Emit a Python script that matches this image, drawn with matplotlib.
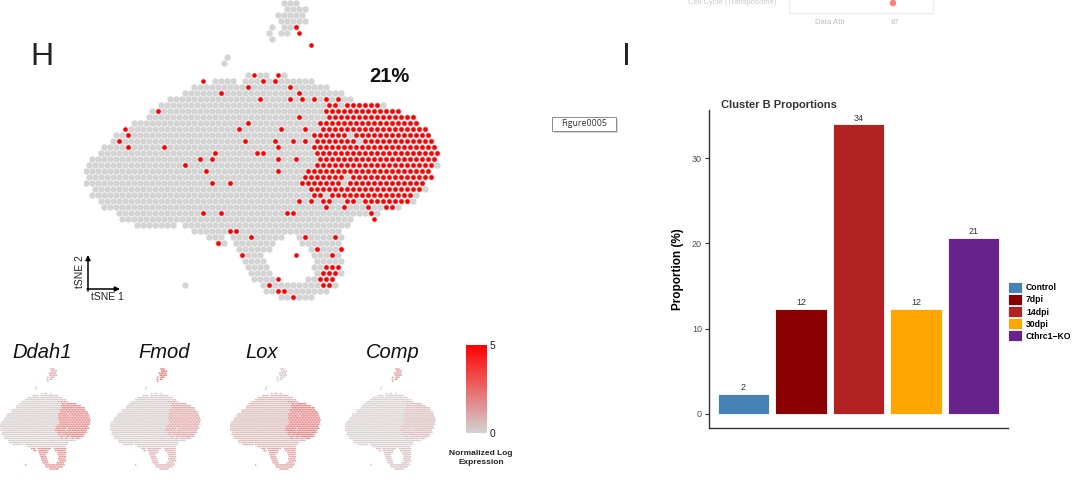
import matplotlib
matplotlib.use("Agg")
import matplotlib.pyplot as plt
from matplotlib.colors import LinearSegmentedColormap, Normalize
from matplotlib.cm import ScalarMappable
from matplotlib.patches import Patch, Rectangle, Circle

plt.rcParams['font.family'] = ['Liberation Sans', 'DejaVu Sans']

W, H = 1080, 482

# ---------------- Panel H: tSNE read off the picture as a coarse raster ----------------
# row -> list of (first_col, last_col) spans of grey cells (60 cols x 50 rows)
GRAY_SPANS = {
    0: [(33, 35)], 1: [(33, 36)], 2: [(32, 36)], 3: [(32, 36)], 4: [(31, 31), (33, 35)],
    5: [(30, 30), (32, 33)], 6: [(31, 31)], 9: [(23, 23)], 10: [(23, 23)],
    12: [(27, 27), (29, 30), (33, 33)],
    13: [(21, 24), (26, 37)],
    14: [(18, 40)], 15: [(16, 42)], 16: [(14, 44)], 17: [(12, 49)], 18: [(11, 52)],
    19: [(10, 54)], 20: [(8, 55)], 21: [(7, 56)], 22: [(5, 57)], 23: [(4, 57)],
    24: [(3, 58)], 25: [(2, 58)], 26: [(1, 58)], 27: [(0, 58)], 28: [(0, 57)],
    29: [(0, 57)], 30: [(0, 56)], 31: [(1, 56)], 32: [(1, 55)], 33: [(2, 54)],
    34: [(3, 52)], 35: [(5, 48)], 36: [(6, 44)], 37: [(8, 14), (16, 43)],
    38: [(18, 42)],
    39: [(20, 22), (24, 32), (35, 42)],
    40: [(22, 23), (25, 31), (36, 42)],
    41: [(25, 30), (37, 42)],
    42: [(26, 29), (38, 42)],
    43: [(26, 29), (38, 42)],
    44: [(27, 30), (38, 42)],
    45: [(27, 30), (38, 42)],
    46: [(28, 31), (37, 41)],
    47: [(16, 16), (29, 41)],
    48: [(30, 40)],
    49: [(32, 37)],
}
# dense red (Cluster B) spans
RED_SPANS = {
    16: [(38, 38), (40, 40), (42, 42)],
    17: [(40, 41), (43, 48)],
    18: [(40, 52)],
    19: [(40, 54)],
    20: [(39, 55)],
    21: [(39, 56)],
    22: [(38, 43), (45, 57)],
    23: [(38, 44), (46, 57)],
    24: [(38, 58)],
    25: [(38, 58)],
    26: [(39, 58)],
    27: [(38, 57)],
    28: [(37, 57)],
    29: [(36, 42), (44, 57)],
    30: [(36, 42), (44, 56)],
    31: [(37, 55)],
    32: [(38, 39), (41, 54)],
    33: [(39, 40), (43, 44), (46, 53)],
    34: [(40, 40), (43, 43), (47, 47), (50, 51)],
    44: [(40, 42)], 45: [(39, 41)], 46: [(39, 41)], 47: [(39, 40)],
}
# scattered red cells (col, row)
RED_CELLS = [(35, 4), (35, 5), (37, 7), (28, 12), (32, 12), (19, 13), (31, 13), (29, 13),
             (27, 14), (34, 14), (22, 15), (35, 15), (29, 16), (34, 16), (36, 16), (12, 18),
             (35, 19), (27, 20), (6, 21), (25, 21), (32, 21), (36, 21), (7, 22), (5, 23),
             (26, 23), (31, 23), (34, 23), (36, 23), (7, 24), (13, 24), (32, 24), (21, 25),
             (28, 25), (29, 25), (19, 26), (21, 26), (32, 26), (35, 26), (16, 27), (20, 28),
             (32, 28), (21, 30), (24, 30), (35, 33), (37, 33), (19, 35), (22, 35), (33, 35),
             (34, 35), (47, 35), (48, 36), (24, 38), (25, 38), (27, 39), (36, 39), (41, 39),
             (22, 40), (38, 41), (42, 41), (26, 42), (35, 42), (41, 42), (32, 46), (30, 47),
             (32, 48), (33, 48), (34, 49)]
HIGHLIGHT_PCT = "21%"

# feature plots: expression level per region (read by eye)
GENES = ["Ddah1", "Fmod", "Lox", "Comp"]
EXPR_BASE = [0.25, 0.25, 0.7, 0.2]
EXPR_CLUSTER = [1.9, 1.2, 2.1, 0.7]
EXPR_LOOP = [1.6, 0.8, 1.2, 0.5]
EXPR_TOP = [1.0, 2.2, 0.4, 1.4]
CBAR_TICKS = [0, 5]

# ---------------- Panel I: bar chart ----------------
GROUPS = ["Control", "7dpi", "14dpi", "30dpi", "Cthrc1\u2212KO"]
PROPORTIONS = [2.3, 12.3, 34.0, 12.3, 20.7]
BAR_COLORS = ["#4682B4", "#8B0000", "#B22222", "#FFA500", "#68228B"]
Y_TICKS = [0, 10, 20, 30]


def expand(spans):
    cells = []
    for r, lst in spans.items():
        for c0, c1 in lst:
            for c in range(c0, c1 + 1):
                cells.append((c, r))
    return cells


gray_cells = expand(GRAY_SPANS)
red_dense = expand(RED_SPANS)
red_set = set(red_dense)
red_cells = red_dense + RED_CELLS


def cx(c, r):
    # staggered (hexagonal) layout of the raster cells
    return c + 0.25 + 0.5 * (r % 2)


def cy(c, r):
    return r + 0.5


fig = plt.figure(figsize=(W / 100, H / 100), dpi=100)


def px_axes(x, y, w, h, **kw):
    return fig.add_axes([x / W, 1 - (y + h) / H, w / W, h / H], **kw)


# overlay for annotations in pixel space
ov = px_axes(0, 0, W, H)
ov.set_xlim(0, W)
ov.set_ylim(H, 0)
ov.axis('off')
ov.patch.set_alpha(0)

# main tSNE
ax = px_axes(84, 0, 360, 300)
ax.set_xlim(0, 60)
ax.set_ylim(50, 0)
ax.axis('off')
ax.scatter([cx(c, r) for c, r in gray_cells], [cy(c, r) for c, r in gray_cells],
           s=21, c='#d4d4d4', linewidths=0)
ax.scatter([cx(c, r) for c, r in red_cells], [cy(c, r) for c, r in red_cells],
           s=11, c='#ff0000', linewidths=0)

# text/arrows of panel H
ov.text(42, 57, "H", fontsize=23, ha='center', va='center', color='#222222')
ov.text(389, 76, HIGHLIGHT_PCT, fontsize=14.5, fontweight='bold', ha='center', va='center',
        color='#111111')
ov.annotate("", xy=(88, 255), xytext=(88, 291),
            arrowprops=dict(arrowstyle='-|>', color='black', lw=1.1, mutation_scale=7,
                            shrinkA=0, shrinkB=0))
ov.annotate("", xy=(120, 289), xytext=(87, 289),
            arrowprops=dict(arrowstyle='-|>', color='black', lw=1.1, mutation_scale=7,
                            shrinkA=0, shrinkB=0))
ov.text(80, 272, "tSNE 2", rotation=90, fontsize=7.5, ha='center', va='center', color='#222222')
ov.text(107, 297, "tSNE 1", fontsize=7.5, ha='center', va='center', color='#222222')

# feature plots
cmap = LinearSegmentedColormap.from_list('expr', ['#d3d3d3', '#ff0000'])
norm = Normalize(0, 5)
MINI_X = [0, 110, 230, 345]
TITLE_X = [42, 164, 262, 393]
for i, g in enumerate(GENES):
    mx = px_axes(MINI_X[i], 368, 92, 102)
    mx.set_xlim(0, 60)
    mx.set_ylim(50, 0)
    mx.axis('off')
    vals = []
    for (c, r) in gray_cells:
        if r <= 7:
            vals.append(EXPR_TOP[i])
        elif r >= 39:
            vals.append(EXPR_LOOP[i])
        elif (c, r) in red_set:
            vals.append(EXPR_CLUSTER[i])
        else:
            vals.append(EXPR_BASE[i])
    mx.scatter([cx(c, r) for c, r in gray_cells], [cy(c, r) for c, r in gray_cells],
               s=1.3, c=vals, cmap=cmap, norm=norm, linewidths=0)
    ov.text(TITLE_X[i], 352, g, fontsize=14.5, style='italic', ha='center', va='center',
            color='#111111')

cax = px_axes(466, 345, 21, 88)
cb = fig.colorbar(ScalarMappable(norm=norm, cmap=cmap), cax=cax, ticks=CBAR_TICKS)
cb.outline.set_visible(False)
cax.tick_params(length=0, labelsize=7.5, pad=2, colors='#222222')
ov.text(481, 458, "Normalized Log\nExpression", fontsize=6, fontweight='bold', ha='center',
        va='center', linespacing=1.3, color='#222222')

# ---------------- bar chart ----------------
ov.text(626, 57, "I", fontsize=23, ha='center', va='center', color='#222222')
bx = px_axes(709, 110, 299, 318)
xs = list(range(1, len(GROUPS) + 1))
bx.bar(xs, PROPORTIONS, width=0.9, color=BAR_COLORS, edgecolor='white', linewidth=0.6)
for x, v in zip(xs, PROPORTIONS):
    bx.text(x, v + 0.2, f"{round(v)}", ha='center', va='bottom', fontsize=6.5, color='#333333')
bx.set_xlim(0.4, 5.6)
bx.set_ylim(-1.7, 35.7)
bx.set_xticks([])
bx.set_yticks(Y_TICKS)
bx.tick_params(axis='y', length=3, width=0.8, colors='#333333', labelsize=6.5, pad=2,
               labelcolor='#4d4d4d')
for s in ['top', 'right']:
    bx.spines[s].set_visible(False)
for s in ['left', 'bottom']:
    bx.spines[s].set_color('#333333')
    bx.spines[s].set_linewidth(1.0)
bx.set_ylabel("Proportion (%)", fontsize=8.5, fontweight='bold', labelpad=6)
ov.text(721, 105, "Cluster B Proportions", fontsize=8, fontweight='bold', ha='left',
        va='center', color='#333333')
handles = [Patch(facecolor=c, edgecolor='white', linewidth=0.6) for c in BAR_COLORS]
fig.legend(handles, GROUPS, loc='upper left', bbox_to_anchor=(1008 / W, 1 - 282 / H),
           frameon=False, prop={'weight': 'bold', 'size': 6.2},
           handlelength=1.6, handleheight=1.6, labelspacing=0.12, handletextpad=0.5,
           borderaxespad=0, borderpad=0)

# Figure tag box
ov.add_patch(Rectangle((554, 119), 64, 14, facecolor='#bbbbbb', edgecolor='none', alpha=0.6))
ov.add_patch(Rectangle((552, 117), 64, 14, facecolor='white', edgecolor='#8a8a8a', lw=0.7))
ov.text(584, 124, "Figure0005", fontsize=6.3, ha='center', va='center', color='#333333',
        family=['Open Sans', 'DejaVu Sans'])

# faint cut-off content from the previous figure at the top
ov.add_patch(Rectangle((789, -6), 144, 19, facecolor='white', edgecolor='#eeeeee', lw=1.0))
ov.text(732, 3, "Cell Cycle (Transposome)", fontsize=5.5, ha='center', va='center',
        color='#bbbbbb', alpha=0.8)
ov.add_patch(Circle((893, 3), 3.2, facecolor='#ff5a5a', edgecolor='none', alpha=0.8))
ov.text(830, 22, "Data Attr", fontsize=5.5, ha='center', va='center', color='#aaaaaa', alpha=0.8)
ov.text(895, 22, "87", fontsize=5.5, ha='center', va='center', color='#aaaaaa', alpha=0.8)

fig.savefig("out.png", dpi=100)
